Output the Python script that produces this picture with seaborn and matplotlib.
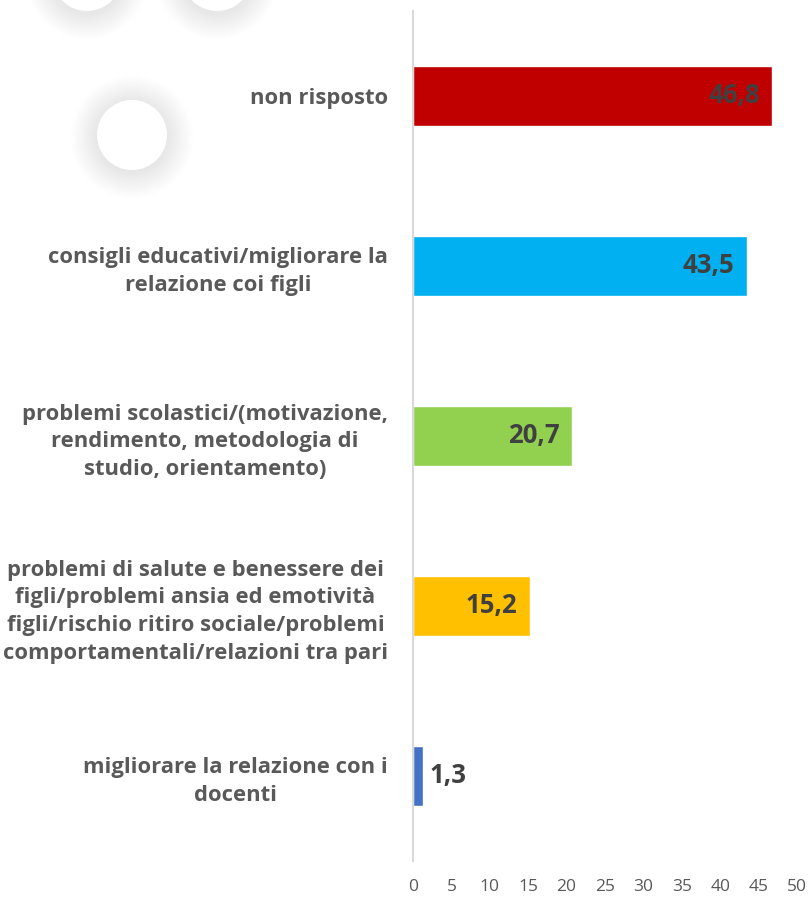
import matplotlib.pyplot as plt
import matplotlib.patches as mpatches
import seaborn as sns
import pandas as pd

# ── DATA ─────────────────────────────────────────────────────────────────────
categories = [
    "non risposto",
    "consigli educativi/migliorare la\nrelazione coi figli",
    "problemi scolastici/(motivazione,\nrendimento, metodologia di\nstudio, orientamento)",
    "problemi di salute e benessere dei\nfigli/problemi ansia ed emotività\nfigli/rischio ritiro sociale/problemi\ncomportamentali/relazioni tra pari",
    "migliorare la relazione con i\ndocenti",
]
values = [46.8, 43.5, 20.7, 15.2, 1.3]
colors = ["#C00000", "#00B0F0", "#92D050", "#FFC000", "#4472C4"]
xticks = [0, 5, 10, 15, 20, 25, 30, 35, 40, 45, 50]

df = pd.DataFrame({"cat": categories, "val": values})

# ── STYLE ────────────────────────────────────────────────────────────────────
sns.set_theme(style="white")
plt.rcParams["font.family"] = ["Open Sans", "DejaVu Sans"]
LABEL = "#595959"
VALUE = "#404040"

fig = plt.figure(figsize=(8.12, 8.98), dpi=100)

# decorative circles with soft shadow (background), sizes in inches
for cx, cy in [(0.87, -0.24), (2.17, -0.24), (1.32, 1.35)]:
    for i in range(24, 0, -1):
        fig.patches.append(mpatches.Circle(
            (cx, 8.98 - cy - 0.02), 0.35 + i * 0.011,
            transform=fig.dpi_scale_trans, color="#000000", alpha=0.0045,
            lw=0, zorder=0))
    fig.patches.append(mpatches.Circle(
        (cx, 8.98 - cy), 0.35, transform=fig.dpi_scale_trans,
        color="white", lw=0, zorder=1))

ax = fig.add_axes([413 / 812, 1 - 861 / 898, 384 / 812, 850 / 898])
ax.patch.set_alpha(0)

sns.barplot(data=df, x="val", y="cat", hue="cat", palette=colors,
            legend=False, width=0.353, saturation=1, ax=ax)

for i, v in enumerate(values):
    txt = f"{v:.1f}".replace(".", ",")
    if v > 5:
        ax.annotate(txt, xy=(v, i), xytext=(-9, 0), textcoords="offset points",
                    ha="right", va="center", fontsize=18.5, fontweight="bold",
                    color=VALUE)
    else:
        ax.annotate(txt, xy=(v, i), xytext=(5, 0), textcoords="offset points",
                    ha="left", va="center", fontsize=18.5, fontweight="bold",
                    color=VALUE)

ax.set_xlim(0, 50)
ax.set_ylim(4.5, -0.5)
ax.set_xticks(xticks)
ax.set_xticklabels([str(t) for t in xticks])
ax.set_yticks(range(len(categories)))
ax.set_yticklabels(categories, fontweight="bold", color=LABEL,
                   multialignment="center", linespacing=1.42)
ax.tick_params(axis="y", length=0, pad=18, labelsize=15.8)
ax.tick_params(axis="x", length=0, pad=13, labelsize=12.5, labelcolor=LABEL)
ax.set_xlabel("")
ax.set_ylabel("")

for s in ["top", "right", "bottom"]:
    ax.spines[s].set_visible(False)
ax.spines["left"].set_color("#D9D9D9")
ax.spines["left"].set_linewidth(1.5)

fig.savefig("out.png", dpi=100)
